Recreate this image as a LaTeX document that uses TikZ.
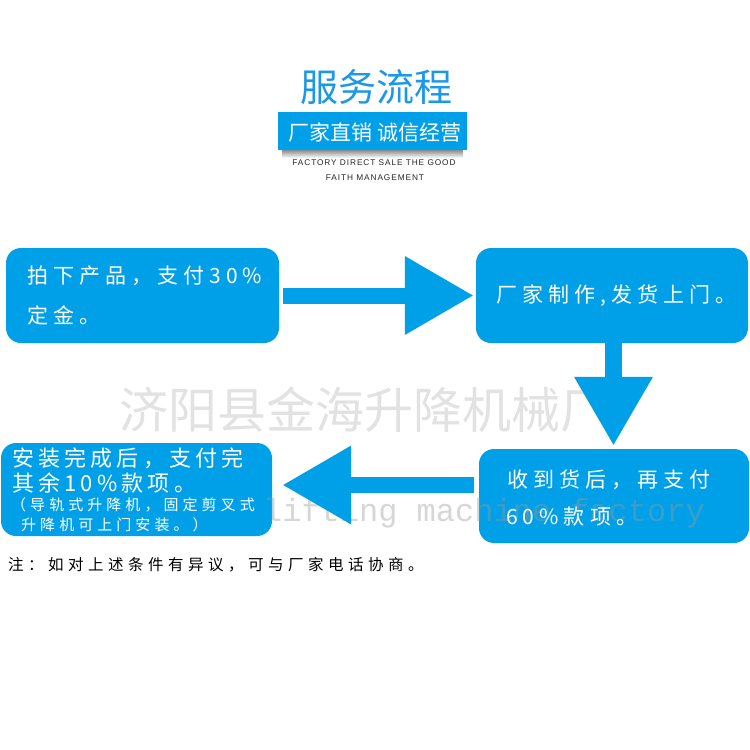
\documentclass[tikz,border=0pt]{standalone}
\usepackage{fontspec}
\newfontfamily\cjk{Noto Sans CJK SC}
\newfontfamily\cjksp[LetterSpace=24]{Noto Sans CJK SC}
\newfontfamily\cjkspc[LetterSpace=19]{Noto Sans CJK SC}
\newfontfamily\cjkspb[LetterSpace=27]{Noto Sans CJK SC}
\newfontfamily\cjkspn[LetterSpace=29]{Noto Sans CJK SC}
\newfontfamily\enfont[LetterSpace=11]{Liberation Sans}
\newfontfamily\wmfont{Liberation Mono}
\usetikzlibrary{arrows.meta,calc}
\definecolor{flowblue}{RGB}{0,160,233}
\definecolor{titleblue}{RGB}{28,152,230}
\definecolor{wmgray}{RGB}{226,226,226}
\begin{document}
\begin{tikzpicture}[x=1pt,y=-1pt,
  box/.style={fill=flowblue, draw=none, rounded corners=15pt, inner sep=0pt},
  boxtext/.style={text=white, anchor=west, inner sep=0pt},
  bigtext/.style={font=\cjksp\fontsize{21}{21}\selectfont},
  smalltext/.style={font=\cjkspb\fontsize{15}{15}\selectfont},
  flow/.style={draw=flowblue, line width=16pt,
    -{Triangle[length=68pt,width=79pt,line width=0pt]}}
]
\useasboundingbox (0,0) rectangle (750,750);
\fill[white] (0,0) rectangle (750,750);

% header
\node[text=titleblue, font=\cjk\fontsize{38}{38}\selectfont, inner sep=0pt] (title) at (376,87) {服务流程};
\shade[top color=black!45, bottom color=white] (282,150) rectangle (463,158);
\node[fill=flowblue, minimum width=189pt, minimum height=38pt, inner sep=0pt] (bar) at (372.5,131) {};
\node[text=white, font=\cjk\fontsize{21}{21}\selectfont, inner sep=0pt] (bartext) at (375,132) {厂家直销\hspace{6pt}诚信经营};
\node[text=black!85, font=\enfont\fontsize{8.3}{8.3}\selectfont, inner sep=0pt] (en1) at (374,163) {FACTORY DIRECT SALE THE GOOD};
\node[text=black!85, font=\enfont\fontsize{8.3}{8.3}\selectfont, inner sep=0pt] (en2) at (375,178) {FAITH MANAGEMENT};

% boxes
\node[box, minimum width=273pt, minimum height=95pt] (b1) at (142.5,295.5) {};
\node[box, minimum width=272pt, minimum height=95pt] (b2) at (612,295.5) {};
\node[box, minimum width=270pt, minimum height=94pt] (b3) at (614,496) {};
\node[box, minimum width=271pt, minimum height=93pt] (b4) at (136.5,489.5) {};

% watermark line 1 (behind arrows)
\node[text=wmgray, font=\cjk\fontsize{49}{49}\selectfont, anchor=west, inner sep=0pt] (wm1) at (119,410) {济阳县金海升降机械厂};

% watermark line 2 (faint)
\node[text=black!40, opacity=0.4, font=\wmfont\fontsize{32}{32}\selectfont, anchor=east, inner sep=0pt] (wm2) at (705,513) {lifting machine factory};

% box texts
\node[boxtext, bigtext] (t1a) at (27,276) {拍下产品，支付30\%};
\node[boxtext, bigtext] (t1b) at (27,315) {定金。};
\node[boxtext, bigtext] (t2) at (496,296) {厂家制作,发货上门。};
\node[boxtext, bigtext] (t3a) at (507,480) {收到货后，再支付};
\node[boxtext, bigtext] (t3b) at (506,517) {60\%款项。};
\node[boxtext, font=\cjkspc\fontsize{22}{22}\selectfont] (t4a) at (12,458) {安装完成后，支付完};
\node[boxtext, font=\cjkspc\fontsize{22}{22}\selectfont] (t4b) at (12,483) {其余10\%款项。};
\node[boxtext, smalltext] (t4c) at (11,505) {（导轨式升降机，固定剪叉式};
\node[boxtext, smalltext] (t4d) at (21,525) {升降机可上门安装。）};

% arrows
\coordinate (ly) at (0,485);
\draw[flow] ([xshift=4pt]b1.east) -- ([xshift=-3pt]b2.west);
\draw[flow, line width=17pt] ([xshift=1.5pt]b2.south) -- ([xshift=1.5pt,yshift=4pt]b2.south |- b3.north);
\draw[flow] ($(b3.west |- ly)+(-5,0)$) -- ($(b4.east |- ly)+(11,0)$);

% note
\node[anchor=west, inner sep=0pt, text=black, font=\cjkspn\fontsize{15.5}{15.5}\selectfont] (note) at (8,565) {注：如对上述条件有异议，可与厂家电话协商。};
\end{tikzpicture}
\end{document}
